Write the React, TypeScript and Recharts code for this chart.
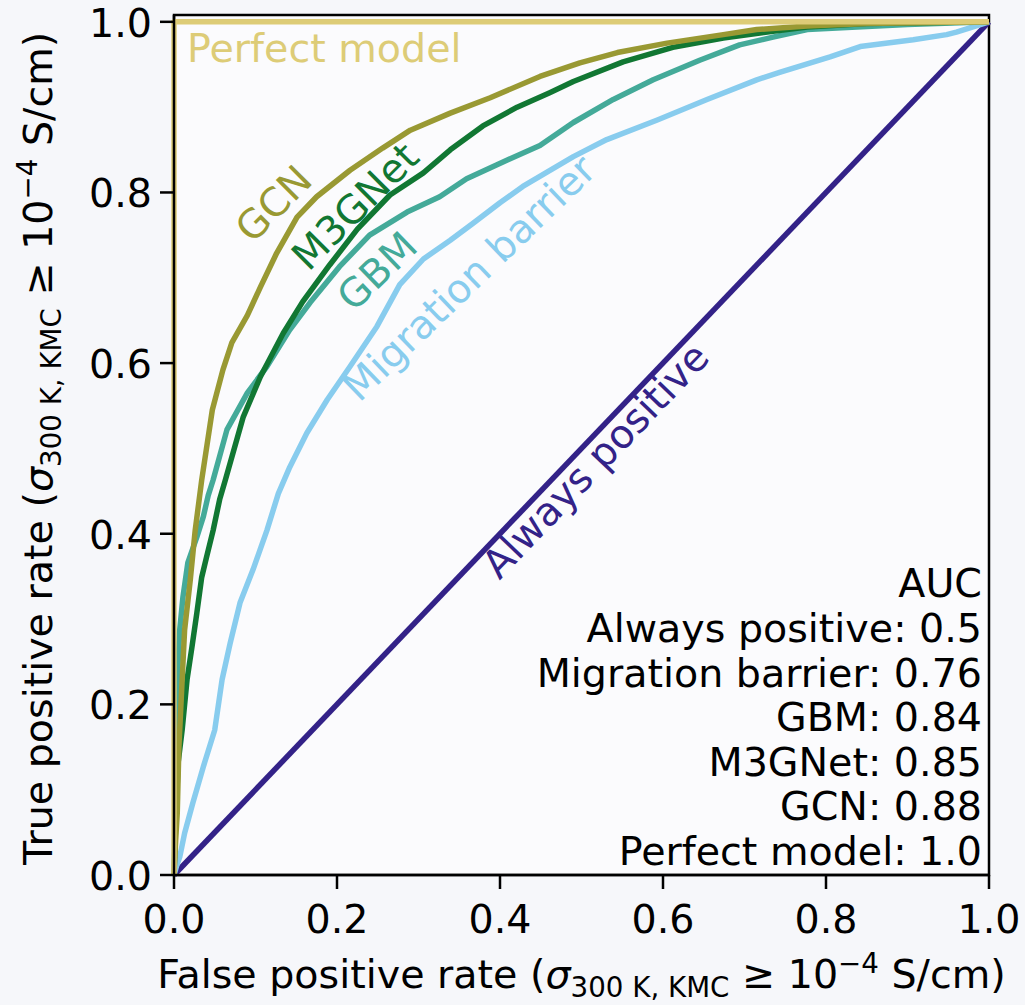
import React from 'react';
import { LineChart, Line, XAxis, YAxis, CartesianGrid, ReferenceArea, ReferenceDot } from 'recharts';

const FONT = "'DejaVu Sans', 'Liberation Sans', sans-serif";

// ---- data (fpr, tpr) ----
const alwaysPositive: [number, number][] = [[0, 0], [1, 1]];

const migrationBarrier: [number, number][] = [
  [0, 0], [0.003, 0.01], [0.007, 0.021], [0.013, 0.049], [0.023, 0.084], [0.036, 0.127],
  [0.05, 0.17], [0.059, 0.229], [0.069, 0.272], [0.081, 0.319], [0.097, 0.358], [0.114, 0.404],
  [0.128, 0.447], [0.142, 0.478], [0.163, 0.518], [0.188, 0.557], [0.216, 0.596], [0.249, 0.643],
  [0.277, 0.692], [0.306, 0.722], [0.339, 0.744], [0.367, 0.764], [0.4, 0.788], [0.428, 0.807],
  [0.49, 0.842], [0.531, 0.862], [0.593, 0.885], [0.654, 0.909], [0.715, 0.932], [0.744, 0.941],
  [0.805, 0.959], [0.842, 0.971], [0.907, 0.979], [0.948, 0.985], [0.96, 0.988], [1, 1],
];

const gbm: [number, number][] = [
  [0, 0], [0.002, 0.12], [0.004, 0.229], [0.007, 0.287], [0.011, 0.326], [0.017, 0.366],
  [0.028, 0.396], [0.036, 0.42], [0.042, 0.445], [0.048, 0.463], [0.065, 0.522], [0.09, 0.565],
  [0.114, 0.596], [0.142, 0.639], [0.167, 0.671], [0.203, 0.713], [0.24, 0.75], [0.286, 0.777],
  [0.326, 0.795], [0.359, 0.816], [0.409, 0.838], [0.449, 0.855], [0.49, 0.882], [0.539, 0.909],
  [0.588, 0.932], [0.645, 0.955], [0.694, 0.973], [0.735, 0.982], [0.777, 0.991], [0.838, 0.994],
  [0.9, 0.997], [1, 1],
];

const m3gnet: [number, number][] = [
  [0, 0], [0.002, 0.06], [0.005, 0.131], [0.01, 0.17], [0.016, 0.229], [0.022, 0.267],
  [0.028, 0.307], [0.034, 0.349], [0.04, 0.373], [0.048, 0.404], [0.056, 0.44], [0.063, 0.463],
  [0.085, 0.537], [0.106, 0.584], [0.134, 0.635], [0.158, 0.672], [0.191, 0.715], [0.225, 0.757],
  [0.265, 0.797], [0.306, 0.823], [0.339, 0.85], [0.379, 0.878], [0.421, 0.9], [0.461, 0.917],
  [0.49, 0.93], [0.551, 0.953], [0.612, 0.97], [0.674, 0.981], [0.735, 0.989], [0.777, 0.994],
  [0.85, 0.998], [1, 1],
];

const gcn: [number, number][] = [
  [0, 0], [0.002, 0.04], [0.004, 0.073], [0.006, 0.15], [0.01, 0.229], [0.013, 0.287],
  [0.02, 0.346], [0.026, 0.404], [0.034, 0.463], [0.047, 0.545], [0.06, 0.592], [0.071, 0.624],
  [0.09, 0.656], [0.106, 0.689], [0.126, 0.729], [0.151, 0.771], [0.175, 0.795], [0.216, 0.826],
  [0.256, 0.852], [0.29, 0.873], [0.339, 0.893], [0.388, 0.911], [0.449, 0.936], [0.498, 0.952],
  [0.544, 0.964], [0.605, 0.975], [0.674, 0.985], [0.715, 0.991], [0.777, 0.995], [0.85, 0.998],
  [1, 1],
];

const perfectModel: [number, number][] = [[0, 0], [0, 1], [1, 1]];

const xTicks = [0, 0.2, 0.4, 0.6, 0.8, 1.0];
const yTicks = [0, 0.2, 0.4, 0.6, 0.8, 1.0];

const aucLines = [
  'AUC',
  'Always positive: 0.5',
  'Migration barrier: 0.76',
  'GBM: 0.84',
  'M3GNet: 0.85',
  'GCN: 0.88',
  'Perfect model: 1.0',
];

const COLORS = {
  always: '#332288',
  migration: '#88ccee',
  gbm: '#44aa99',
  m3gnet: '#117733',
  gcn: '#999933',
  perfect: '#ddcc77',
};

// inline labels: [text, color, fpr, tpr, angle]
const inlineLabels: [string, string, number, number, number][] = [
  ['GCN', COLORS.gcn, 0.122, 0.787, -45],
  ['M3GNet', COLORS.m3gnet, 0.222, 0.784, -45],
  ['GBM', COLORS.gbm, 0.249, 0.708, -44],
  ['Migration barrier', COLORS.migration, 0.362, 0.700, -44],
  ['Always positive', COLORS.always, 0.517, 0.486, -46.3],
];

const toPts = (arr: [number, number][]) => arr.map(([x, y]) => ({ x, y }));

const FS = 39.6;
const SUB = 27.7;

const center = (props: any) => {
  const vb = props.viewBox || {};
  const x = (vb.x ?? props.x ?? 0) + (vb.width ?? 0) / 2;
  const y = (vb.y ?? props.y ?? 0) + (vb.height ?? 0) / 2;
  return { x, y };
};

const makeRotLabel = (text: string, color: string, angle: number) => (props: any) => {
  const { x, y } = center(props);
  return (
    <text x={x} y={y} transform={`rotate(${angle} ${x} ${y})`} textAnchor="middle"
      dominantBaseline="central" fill={color} fontSize={FS} fontFamily={FONT}>{text}</text>
  );
};

const perfectLabel = (props: any) => {
  const { x, y } = center(props);
  return (
    <text x={x} y={y} textAnchor="start" fill={COLORS.perfect} fontSize={FS} fontFamily={FONT}>Perfect model</text>
  );
};

const aucLabel = (props: any) => {
  const { x, y } = center(props);
  const n = aucLines.length;
  return (
    <g>
      {aucLines.map((t, i) => (
        <text key={i} x={x - 7} y={y - 10 - (n - 1 - i) * 44.6} textAnchor="end" fill="#000"
          fontSize={FS} fontFamily={FONT}>{t}</text>
      ))}
    </g>
  );
};

const mathTail = () => [
  <tspan key="s" fontStyle="italic">σ</tspan>,
  <tspan key="a" fontSize={SUB} dy={9}>{'300 K, KMC'}</tspan>,
  <tspan key="b" dy={-9}>{' ≥ 10'}</tspan>,
  <tspan key="c" fontSize={SUB} dy={-15}>{'−4'}</tspan>,
  <tspan key="d" dy={15}>{' S/cm)'}</tspan>,
];

const xAxisLabel = (props: any) => {
  const { x, y } = center(props);
  return (
    <text x={x} y={y + 113} textAnchor="middle" fill="#000" fontSize={FS} fontFamily={FONT}>
      {'False positive rate ('}
      {mathTail()}
    </text>
  );
};

const yAxisLabel = (props: any) => {
  const { x, y } = center(props);
  const lx = x - 122;
  return (
    <text x={lx} y={y} transform={`rotate(-90 ${lx} ${y})`} textAnchor="middle" fill="#000"
      fontSize={FS} fontFamily={FONT}>
      {'True positive rate ('}
      {mathTail()}
    </text>
  );
};

const XTick = (p: any) => (
  <text x={p.x} y={p.y + 36} textAnchor="middle" fill="#000" fontSize={FS} fontFamily={FONT}>
    {Number(p.payload.value).toFixed(1)}
  </text>
);

const YTick = (p: any) => (
  <text x={p.x} y={p.y + 15} textAnchor="end" fill="#000" fontSize={FS} fontFamily={FONT}>
    {Number(p.payload.value).toFixed(1)}
  </text>
);

const series: [string, [number, number][], string][] = [
  ['Always positive', alwaysPositive, COLORS.always],
  ['Migration barrier', migrationBarrier, COLORS.migration],
  ['GBM', gbm, COLORS.gbm],
  ['M3GNet', m3gnet, COLORS.m3gnet],
  ['GCN', gcn, COLORS.gcn],
  ['Perfect model', perfectModel, COLORS.perfect],
];

export default function App() {
  return (
    <div style={{ position: 'absolute', left: 0, top: 0, width: 1025, height: 1005, background: '#f6f7fa' }}>
      <LineChart width={1025} height={1005} margin={{ top: 15, right: 36, bottom: 100, left: 0 }}>
        <CartesianGrid horizontal={false} vertical={false} fill="#fbfbfd" />
        <XAxis type="number" dataKey="x" domain={[0, 1]} ticks={xTicks} interval={0} height={30}
          tickSize={14} tickMargin={8} tick={<XTick />}
          axisLine={{ stroke: '#000', strokeWidth: 2.5 }} tickLine={{ stroke: '#000', strokeWidth: 2.5 }} />
        <YAxis type="number" dataKey="y" domain={[0, 1.008]} ticks={yTicks} interval={0} width={174}
          tickSize={14} tickMargin={8} tick={<YTick />}
          axisLine={{ stroke: '#000', strokeWidth: 2.5 }} tickLine={{ stroke: '#000', strokeWidth: 2.5 }} />
        {series.map(([name, pts, color]) => (
          <Line key={name} name={name} data={toPts(pts)} dataKey="y" type="linear" stroke={color}
            strokeWidth={5.5} strokeLinejoin="round" dot={false} activeDot={false} isAnimationActive={false} />
        ))}
        <ReferenceArea x1={0} x2={1} y1={0} y2={1.008} fill="none" fillOpacity={0} stroke="#000" strokeWidth={2.5} ifOverflow="visible" />
        {inlineLabels.map(([t, c, fx, fy, a]) => (
          <ReferenceDot key={t} x={fx} y={fy} r={0} fill="none" stroke="none" label={makeRotLabel(t, c, a)} />
        ))}
        <ReferenceDot x={0.016} y={0.953} r={0} fill="none" stroke="none" label={perfectLabel} />
        <ReferenceDot x={1} y={0} r={0} fill="none" stroke="none" label={aucLabel} />
        <ReferenceDot x={0.5} y={0} r={0} fill="none" stroke="none" label={xAxisLabel} />
        <ReferenceDot x={0} y={0.5} r={0} fill="none" stroke="none" label={yAxisLabel} />
      </LineChart>
    </div>
  );
}
